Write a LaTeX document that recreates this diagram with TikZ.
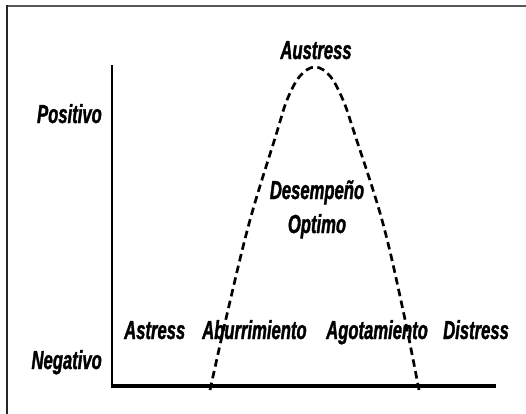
\documentclass[tikz,border=0pt]{standalone}
\usepackage{fontspec}
\newfontfamily\lblfont{Liberation Sans}[FakeStretch=0.64,FakeBold=1.3]
\begin{document}
\begin{tikzpicture}[x=1pt,y=-1pt,
  lbl/.style={inner sep=0pt,font=\lblfont\bfseries\itshape\fontsize{26}{30}\selectfont},
  hump/.style={line width=2.7pt,dash pattern=on 7.5pt off 4.5pt}]
\useasboundingbox (0,0) rectangle (526,413);
\fill[white] (0,0) rectangle (526,413);
% frame
\draw[line width=2pt,color=black!65] (7,5.5) -- (527,5.5);
\draw[line width=1.5pt,color=black!85] (7,5) -- (7,414);
% axes
\coordinate (top) at (112,65);
\coordinate (right) at (496,386);
\draw[line width=2.8pt] (top) -- (112,387.5);
\draw[line width=3.6pt] (110.6,386) -- (right);
% hump
\draw[hump] plot[smooth,tension=0.6] coordinates {(210,390) (228,310) (250,220) (276,135) (287,100) (300,76) (315,67) (330,76) (343,100) (354,132) (382,220) (403,310) (419,390)};
% labels
\node[lbl,anchor=base] (aus) at (316,59) {Austress};
\node[lbl,anchor=base east] (pos) at (102,123) {Positivo};
\node[lbl,anchor=base east] (neg) at (102,369) {Negativo};
\node[lbl,anchor=base west] (ast) at (124,339) {Astress};
\node[lbl,anchor=base west] (abu) at (202,339) {Aburrimiento};
\node[lbl,anchor=base west] (ago) at (326,339) {Agotamiento};
\node[lbl,anchor=base west] (dis) at (443,339) {Distress};
\node[lbl,anchor=base] (des) at (317,199) {Desempeño};
\node[lbl,anchor=base] (opt) at (317,233) {Optimo};
\end{tikzpicture}
\end{document}
